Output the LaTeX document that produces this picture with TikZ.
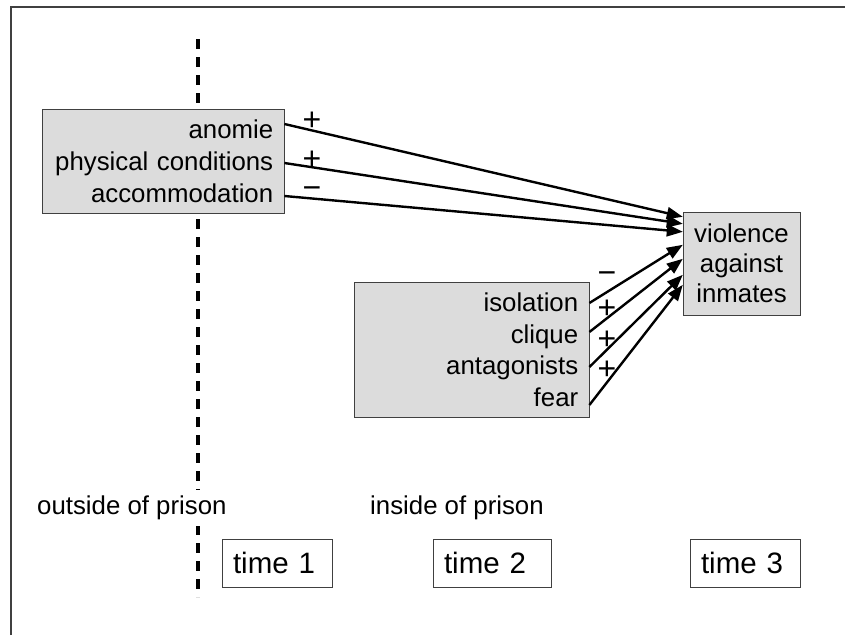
\documentclass[tikz,border=0pt]{standalone}
\usepackage{fontspec}
\setmainfont{Liberation Sans}
\usetikzlibrary{arrows.meta}
\definecolor{boxgray}{HTML}{DCDCDC}
\definecolor{framegray}{HTML}{404040}

\begin{document}
\begin{tikzpicture}[x=1pt,y=-1pt,
    every node/.style={font=\fontsize{25.8}{31.7}\selectfont},
    factors/.style={draw=framegray, fill=boxgray, align=right, inner xsep=11pt, anchor=north west},
    timebox/.style={draw=framegray, fill=white, align=left, inner xsep=11pt, minimum height=48pt,
      font=\fontsize{29.5}{34}\selectfont},
    effect/.style={-{Triangle[length=16pt,width=12pt]}, line width=2.4pt},
    sign/.style={inner sep=0pt, font=\fontsize{32}{34}\selectfont},
    place/.style={anchor=west, inner xsep=0pt, inner ysep=6pt, fill=white}]
      \useasboundingbox (0,0) rectangle (845,635);
      \draw[framegray, line width=1.5pt] (11,635) -- (11,7) -- (845,7);
      \draw[line width=3.2pt, dash pattern=on 10pt off 8pt] (198,39) -- (198,597);
      % boxes of factors and outcome
      \node[factors, text width=220pt, minimum height=104pt] (outside) at (42,109) {anomie\\physical conditions\\accommodation};
      \node[factors, text width=213pt, minimum height=135pt] (inside) at (354,282) {isolation\\clique\\antagonists\\fear};
      \node[draw=framegray, fill=boxgray, align=center, minimum width=117pt, minimum height=103pt,
        font=\fontsize{25.8}{30}\selectfont] (violence) at (741.5,263.5) {violence\\against\\inmates};
      % effects
      \draw[effect] ([yshift=-15pt]outside.north east) -- ([yshift=-5pt]violence.north west);
      \draw[effect] ([yshift=-54pt]outside.north east) -- ([yshift=-12pt]violence.north west);
      \draw[effect] ([yshift=-87pt]outside.north east) -- ([yshift=-20pt]violence.north west);
      \draw[effect] ([yshift=-21pt]inside.north east) -- ([yshift=-33pt]violence.north west);
      \draw[effect] ([yshift=-50pt]inside.north east) -- ([yshift=-47pt]violence.north west);
      \draw[effect] ([yshift=-85pt]inside.north east) -- ([yshift=-63pt]violence.north west);
      \draw[effect] ([yshift=-123pt]inside.north east) -- ([yshift=-73pt]violence.north west);
      \node[sign] (anomiesign) at (312,121) {+}; \node[sign] (physsign) at (312,160) {+}; \node[sign] (accsign) at (312,193) {−};
      \node[sign] (isosign) at (607,278) {−}; \node[sign] (cliquesign) at (607,309) {+};
      \node[sign] (antsign) at (607,340) {+}; \node[sign] (fearsign) at (607,370) {+};
      % places and times
      \node[place] (outlabel) at (37,508) {outside of prison};
      \node[place] (inlabel) at (370,508) {inside of prison};
      \node[timebox, text width=88pt] (time1) at (277,563) {time 1};
      \node[timebox, text width=96pt] (time2) at (492,563) {time 2};
      \node[timebox, text width=88pt] (time3) at (745,563) {time 3};
    \end{tikzpicture}
\end{document}
